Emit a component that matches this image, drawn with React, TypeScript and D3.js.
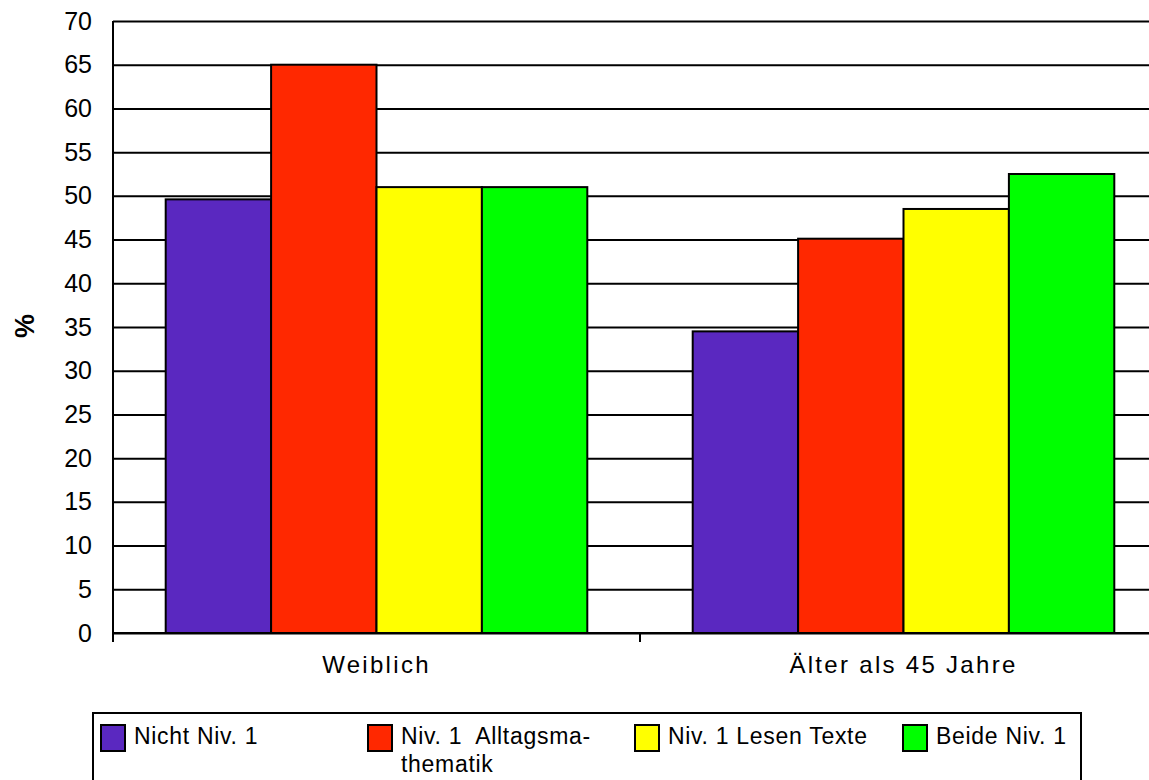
import * as d3 from 'd3'
import { useEffect, useRef } from 'react'

const categories = ['Weiblich', 'Älter als 45 Jahre']
const seriesNames = ['Nicht Niv. 1', 'Niv. 1  Alltagsma-|thematik', 'Niv. 1 Lesen Texte', 'Beide Niv. 1']
const seriesColors = ['#5a28c0', '#ff2800', '#ffff00', '#00ff00']
const nichtNiv1 = [49.6, 34.5]
const alltagsmathematik = [65, 45.1]
const lesenTexte = [51, 48.5]
const beideNiv1 = [51, 52.5]
const yTicks = d3.range(0, 71, 5)

const series = [nichtNiv1, alltagsmathematik, lesenTexte, beideNiv1]

const WIDTH = 1149
const HEIGHT = 780
const MARGIN = { top: 21, right: -18, bottom: 147, left: 113 }
const FONT = '"Liberation Sans", Arial, sans-serif'

/* Y axis with gridlines */
const AxisLeft = ({ scale, width }: { scale: d3.ScaleLinear<number, number>, width: number }) => {
    const ref = useRef<SVGGElement>(null)

    useEffect(() => {
        if (ref.current) {
            const g = d3.select(ref.current)
            g.selectAll('*').remove()
            g.call(d3.axisLeft(scale).tickValues(yTicks).tickSize(12).tickPadding(9).tickFormat(d3.format('d')))
            g.select('.domain').remove()
            g.selectAll('.tick line').attr('x2', width).attr('stroke', '#000').attr('stroke-width', 2)
            g.selectAll('.tick text').attr('font-size', 25).attr('font-family', FONT).attr('fill', '#000')
        }
    }, [scale, width])

    return <g ref={ref} />
}

/* X axis */
const AxisBottom = ({ scale, transform }: { scale: d3.ScaleBand<string>, transform: string }) => {
    const ref = useRef<SVGGElement>(null)

    useEffect(() => {
        if (ref.current) {
            const g = d3.select(ref.current)
            g.selectAll('*').remove()
            g.call(d3.axisBottom(scale).tickSize(0).tickPadding(23))
            g.select('.domain').remove()
            g.selectAll('.tick text').attr('font-size', 24).attr('letter-spacing', 2.3)
                .attr('font-family', FONT).attr('fill', '#000')
        }
    }, [scale])

    return <g ref={ref} transform={transform} />
}

export default function App() {
    const boundsWidth = WIDTH - MARGIN.left - MARGIN.right
    const boundsHeight = HEIGHT - MARGIN.top - MARGIN.bottom

    const xScale = d3.scaleBand<string>().domain(categories).range([0, boundsWidth])
    const xInner = d3.scaleBand<number>().domain(d3.range(series.length))
        .range([0, xScale.bandwidth()]).paddingOuter(0.5).paddingInner(0)
    const yScale = d3.scaleLinear().domain([0, 70]).range([boundsHeight, 0])

    const bars = categories.flatMap((c, ci) =>
        series.map((s, si) => (
            <rect
                key={`${ci}-${si}`}
                x={(xScale(c) ?? 0) + (xInner(si) ?? 0)}
                y={yScale(s[ci])}
                width={xInner.bandwidth()}
                height={boundsHeight - yScale(s[ci])}
                fill={seriesColors[si]}
                stroke="#000"
                strokeWidth={2}
            />
        ))
    )

    const catEdges = [0, ...categories.map((c) => (xScale(c) ?? 0) + xScale.bandwidth())]

    const legendX = [101, 368, 635, 903]

    return (
        <svg width={WIDTH} height={HEIGHT} style={{ position: 'absolute', left: 0, top: 0, background: '#fff' }}>
            <g transform={`translate(${MARGIN.left},${MARGIN.top})`}>
                <AxisLeft scale={yScale} width={boundsWidth} />
                {bars}
                <line x1={0} x2={boundsWidth} y1={boundsHeight} y2={boundsHeight} stroke="#000" strokeWidth={2} />
                <line x1={0} x2={0} y1={0} y2={boundsHeight + 8} stroke="#000" strokeWidth={2} />
                {catEdges.map((x, i) => (
                    <line key={i} x1={x} x2={x} y1={boundsHeight} y2={boundsHeight + 9} stroke="#000" strokeWidth={2} />
                ))}
                <AxisBottom scale={xScale} transform={`translate(0,${boundsHeight})`} />
            </g>
            <text
                transform={`translate(34,326) rotate(-90)`}
                textAnchor="middle"
                fontFamily={FONT}
                fontWeight="bold"
                fontSize={27}
            >%</text>
            <rect x={93} y={713} width={988} height={80} fill="#fff" stroke="#000" strokeWidth={2} />
            {seriesNames.map((name, i) => (
                <g key={name} transform={`translate(${legendX[i]},725)`}>
                    <rect x={0} y={0} width={24} height={26} fill={seriesColors[i]} stroke="#000" strokeWidth={2} />
                    {name.split('|').map((line, li) => (
                        <text key={li} x={33} y={19 + li * 28} fontFamily={FONT} fontSize={23}
                            letterSpacing={0.7} style={{ whiteSpace: 'pre' }}>{line}</text>
                    ))}
                </g>
            ))}
        </svg>
    )
}
